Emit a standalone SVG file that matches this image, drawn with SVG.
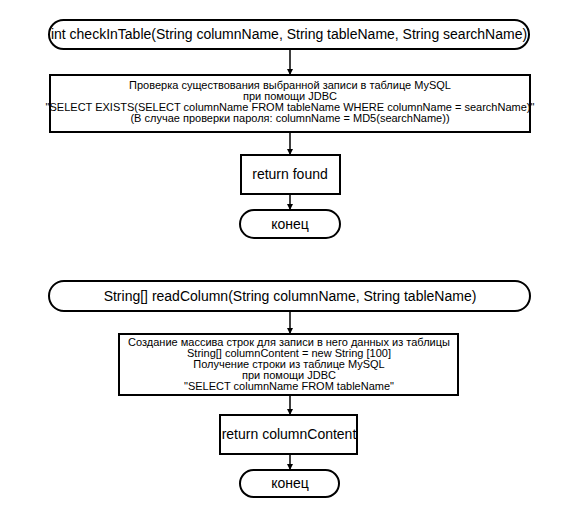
<svg xmlns="http://www.w3.org/2000/svg" width="580" height="520" viewBox="0 0 580 520">
<defs>
<style>
.s{fill:#fff;stroke:#000;stroke-width:2}
.t{font-family:"Liberation Sans",Arial,sans-serif;fill:#000;text-anchor:middle}
.c{stroke:#000;stroke-width:1.5;fill:none}
</style>
<marker id="a" viewBox="0 0 6 6" refX="6" refY="3" markerWidth="6" markerHeight="6" markerUnits="userSpaceOnUse" orient="auto"><path d="M0,0 L6,3 L0,6 Z" fill="#000"/></marker>
</defs>
<rect width="580" height="520" fill="#fff"/>
<g id="connectors">
<line class="c" x1="290" y1="49" x2="290" y2="75" marker-end="url(#a)"/>
<line class="c" x1="290" y1="132" x2="290" y2="155" marker-end="url(#a)"/>
<line class="c" x1="290" y1="194" x2="290" y2="210" marker-end="url(#a)"/>
<line class="c" x1="290" y1="311" x2="290" y2="334" marker-end="url(#a)"/>
<line class="c" x1="290" y1="395" x2="290" y2="415" marker-end="url(#a)"/>
<line class="c" x1="290" y1="454" x2="290" y2="470" marker-end="url(#a)"/>
</g>
<g id="start1">
<rect class="s" x="49" y="20" width="480" height="29" rx="14.5"/>
<text class="t" x="289" y="39" font-size="14">int checkInTable(String columnName, String tableName, String searchName)</text>
</g>
<g id="process1">
<rect class="s" x="50" y="75" width="480" height="57"/>
<text class="t" font-size="11"><tspan x="290" y="89">Проверка существования выбранной записи в таблице MySQL</tspan><tspan x="290" y="100">при помощи JDBC</tspan><tspan x="290" y="111">"SELECT EXISTS(SELECT columnName FROM tableName WHERE columnName = searchName)"</tspan><tspan x="290" y="122">(В случае проверки пароля: columnName = MD5(searchName))</tspan></text>
</g>
<g id="return1">
<rect class="s" x="241" y="155" width="99" height="39"/>
<text class="t" x="290" y="179" font-size="14">return found</text>
</g>
<g id="end1">
<rect class="s" x="240" y="210" width="100" height="28" rx="14"/>
<text class="t" x="290" y="229" font-size="14">конец</text>
</g>
<g id="start2">
<rect class="s" x="49" y="281" width="481" height="30" rx="15"/>
<text class="t" x="290" y="301" font-size="14">String[] readColumn(String columnName, String tableName)</text>
</g>
<g id="process2">
<rect class="s" x="119" y="334" width="339" height="61"/>
<text class="t" font-size="11"><tspan x="289" y="346">Создание массива строк для записи в него данных из таблицы</tspan><tspan x="289" y="357">String[] columnContent = new String [100]</tspan><tspan x="289" y="368">Получение строки из таблице MySQL</tspan><tspan x="289" y="379">при помощи JDBC</tspan><tspan x="289" y="390">"SELECT columnName FROM tableName"</tspan></text>
</g>
<g id="return2">
<rect class="s" x="220" y="415" width="137" height="39"/>
<text class="t" x="289" y="439" font-size="14">return columnContent</text>
</g>
<g id="end2">
<rect class="s" x="240" y="470" width="99" height="27" rx="13.5"/>
<text class="t" x="290" y="488" font-size="14">конец</text>
</g>
</svg>
